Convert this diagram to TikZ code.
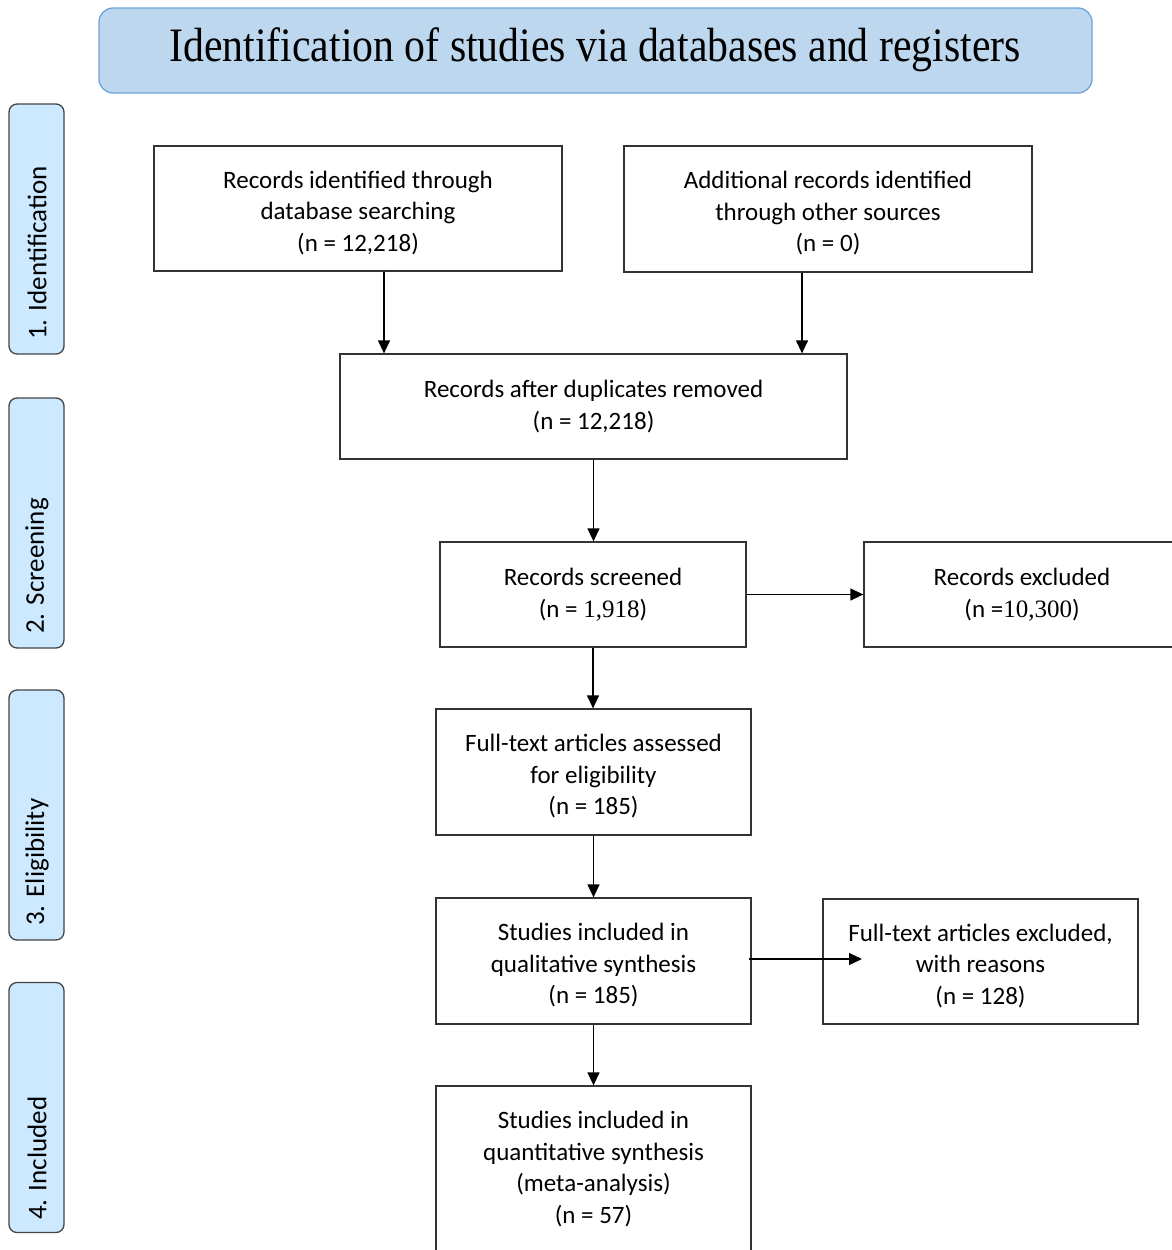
\documentclass[tikz,border=0pt]{standalone}
\usepackage{fontspec}
\setmainfont{Carlito}
\newfontfamily\titlefont[FakeStretch=0.87]{Liberation Serif}
\newfontfamily\numfont{Liberation Serif}
\usetikzlibrary{arrows.meta}
\definecolor{boxline}{HTML}{333333}
\definecolor{titlefill}{HTML}{BDD7EE}
\definecolor{titleline}{HTML}{6FA3DB}
\definecolor{phasefill}{HTML}{CCE9FF}
\definecolor{phaseline}{HTML}{444444}
\tikzset{
  flowbox/.style={draw=boxline, line width=1.3pt, align=center, inner sep=0pt,
    font=\fontsize{25}{31.5}\selectfont},
  phasebox/.style={draw=phaseline, fill=phasefill, line width=1.3pt, rounded corners=8pt,
    minimum width=55pt, minimum height=250pt, inner sep=0pt},
  phasetext/.style={rotate=90, anchor=west, inner sep=0pt, font=\fontsize{27}{32}\selectfont},
  arr/.style={line width=1.3pt, draw=black, -{Triangle[length=13pt,width=12pt]}},
}
\begin{document}
\begin{tikzpicture}[x=1pt,y=-1pt]
\useasboundingbox (0,0) rectangle (1171,1250);
% title
\node[draw=titleline, fill=titlefill, line width=1.3pt, rounded corners=14pt,
  minimum width=993pt, minimum height=85pt, inner sep=0pt] (title) at (595.5,50.5) {};
\node[inner sep=0pt, font=\titlefont\fontsize{48}{52}\selectfont] (titletext) at (595,50)
  {Identification of studies via databases and registers};
% phases
\node[phasebox] (p1) at (36.5,229) {};
\node[phasetext] (t1) at (37,340) {1. Identification};
\node[phasebox] (p2) at (36.5,523) {};
\node[phasetext] (t2) at (37,634) {2. Screening};
\node[phasebox] (p3) at (36.5,815) {};
\node[phasetext] (t3) at (37,926) {3. Eligibility};
\node[phasebox] (p4) at (36.5,1107.5) {};
\node[phasetext] (t4) at (37,1220) {4. Included};
% boxes
\node[flowbox, minimum width=408pt, minimum height=125pt] (A) at (358,208.5)
  {\rule{0pt}{26pt}Records identified through\\database searching\\(n = 12,218)};
\node[flowbox, minimum width=408pt, minimum height=126pt] (B) at (828,209)
  {\rule{0pt}{26pt}Additional records identified\\through other sources\\(n = 0)};
\node[flowbox, minimum width=507pt, minimum height=105pt] (C) at (593.5,406.5)
  {Records after duplicates removed\\(n = 12,218)};
\node[flowbox, minimum width=306pt, minimum height=105pt] (D) at (593,594.5)
  {Records screened\\(n = {\numfont 1,918})};
\node[flowbox, minimum width=316pt, minimum height=105pt] (E) at (1022,594.5)
  {Records excluded\\(n ={\numfont 10,300})};
\node[flowbox, minimum width=315pt, minimum height=126pt] (F) at (593.5,772)
  {\rule{0pt}{26pt}Full-text articles assessed\\for eligibility\\(n = 185)};
\node[flowbox, minimum width=315pt, minimum height=126pt] (G) at (593.5,961)
  {\rule{0pt}{26pt}Studies included in\\qualitative synthesis\\(n = 185)};
\node[flowbox, minimum width=315pt, minimum height=125pt] (H) at (980.5,961.5)
  {\rule{0pt}{26pt}Full-text articles excluded,\\with reasons\\(n = 128)};
\node[flowbox, minimum width=315pt, minimum height=166pt] (I) at (593.5,1169)
  {Studies included in\\quantitative synthesis\\(meta-analysis)\\(n = 57)};
% connectors
\draw[arr] ([xshift=26pt]A.south) -- ([xshift=26pt]A.south |- C.north);
\draw[arr] ([xshift=-26pt]B.south) -- ([xshift=-26pt]B.south |- C.north);
\draw[arr] (C.south) -- (C.south |- D.north);
\draw[arr] (D.east) -- (E.west);
\draw[arr] (D.south) -- (D.south |- F.north);
\draw[arr] (F.south) -- (G.north);
\coordinate (Hin) at (862,959);
\draw[arr] ([xshift=-3pt]G.east |- Hin) -- (Hin);
\draw[arr] (G.south) -- (I.north);
\end{tikzpicture}
\end{document}
